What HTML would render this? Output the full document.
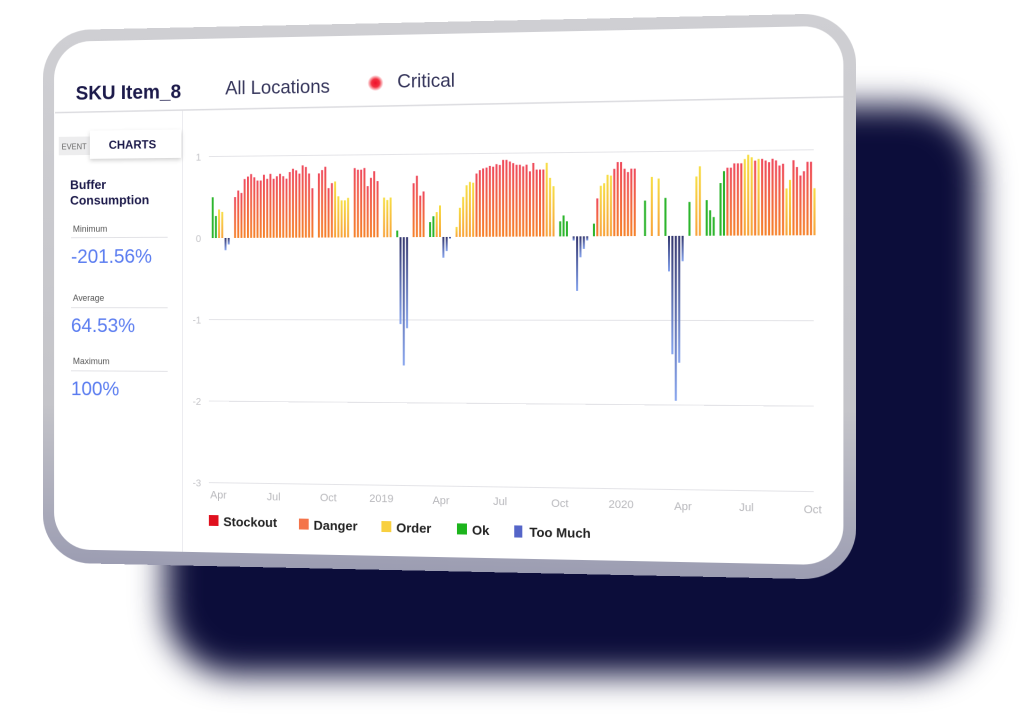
<!DOCTYPE html>
<html><head><meta charset="utf-8"><style>
html,body{margin:0;padding:0;background:#fff;width:1024px;height:719px;overflow:hidden;position:relative;font-family:"Liberation Sans",sans-serif}
#shadow{position:absolute;left:165px;top:105px;width:815px;height:570px;border-radius:70px;background:#0c0d3a;filter:blur(16px)}
#tab{position:absolute;left:29px;top:22px;width:815px;height:549px;transform:perspective(1000px) rotateY(-4.5deg);transform-origin:50% 50%}
#bezel{position:absolute;inset:0;border-radius:50px;background:linear-gradient(180deg,#cfcfd3 0%,#c4c4c9 70%,#9c9db2 100%)}
#screen{position:absolute;left:12px;top:12px;right:12px;bottom:14px;border-radius:38px;background:#fff;overflow:hidden}
svg{position:absolute;left:0;top:0}
</style></head><body>
<div id="shadow"></div>
<div id="tab"><div id="bezel"></div><div id="screen"></div>
<svg width="815" height="549" viewBox="0 0 815 549">
<defs>
<linearGradient id="gr" x1="0" y1="0" x2="0" y2="1"><stop offset="0" stop-color="#ef4a5c"/><stop offset="1" stop-color="#f6822a"/></linearGradient>
<linearGradient id="gy" x1="0" y1="0" x2="0" y2="1"><stop offset="0" stop-color="#f7de45"/><stop offset="1" stop-color="#f8a23a"/></linearGradient>
<linearGradient id="gb" x1="0" y1="0" x2="0" y2="1"><stop offset="0" stop-color="#33366e"/><stop offset="1" stop-color="#86a4ee"/></linearGradient>
<radialGradient id="rd"><stop offset="0" stop-color="#f0102a"/><stop offset="0.5" stop-color="#f23040"/><stop offset="1" stop-color="#f23040" stop-opacity="0"/></radialGradient>
<filter id="sh" x="-20%" y="-20%" width="140%" height="160%"><feDropShadow dx="0" dy="2" stdDeviation="2" flood-opacity="0.18"/></filter>
</defs>
<text x="35" y="72" font-size="20" font-weight="bold" fill="#1c1a4a">SKU Item_8</text>
<text x="192" y="69" font-size="19" fill="#34345a">All Locations</text>
<circle cx="346" cy="60" r="8" fill="url(#rd)"/>
<text x="368" y="65" font-size="19" fill="#34345a">Critical</text>
<line x1="13" y1="85" x2="803" y2="81" stroke="#dcdce0" stroke-width="1.5"/>
<rect x="147" y="85" width="1" height="450" fill="#ececef"/>
<rect x="17" y="110" width="33" height="19" fill="#ededee"/>
<text x="20" y="123" font-size="8" fill="#666">EVENT</text>
<rect x="50" y="104" width="96" height="29" fill="#fff" filter="url(#sh)"/>
<text x="70" y="123" font-size="12" font-weight="bold" fill="#1c1a4a">CHARTS</text>
<text x="29" y="164" font-size="13" font-weight="bold" fill="#1c1a4a">Buffer</text>
<text x="29" y="180" font-size="13" font-weight="bold" fill="#1c1a4a">Consumption</text>
<text x="32" y="208" font-size="9" fill="#555">Minimum</text>
<line x1="30" y1="214" x2="132" y2="214" stroke="#e2e2e6"/>
<text x="30" y="240" font-size="20" fill="#5a7cf0">-201.56%</text>
<text x="32" y="279" font-size="9" fill="#555">Average</text>
<line x1="30" y1="286" x2="132" y2="286" stroke="#e2e2e6"/>
<text x="30" y="311" font-size="20" fill="#5a7cf0">64.53%</text>
<text x="32" y="344" font-size="9" fill="#555">Maximum</text>
<line x1="30" y1="351" x2="132" y2="351" stroke="#e2e2e6"/>
<text x="30" y="376" font-size="20" fill="#5a7cf0">100%</text>
<g stroke="#e4e4e8" stroke-width="1">
<line x1="175" y1="132" x2="775" y2="132"/><line x1="175" y1="298" x2="775" y2="298"/>
<line x1="175" y1="381" x2="775" y2="381"/><line x1="175" y1="464" x2="775" y2="464"/>
</g>
<g font-size="10" fill="#c4c4c8" text-anchor="end">
<text x="167" y="136">1</text><text x="167" y="219">0</text><text x="167" y="302">-1</text><text x="167" y="385">-2</text><text x="167" y="468">-3</text>
</g>
<g id="bars"></g>
<g font-size="11" fill="#b8b8bc" text-anchor="middle">
<text x="185" y="480">Apr</text><text x="242" y="481">Jul</text><text x="298" y="481">Oct</text><text x="352" y="481">2019</text><text x="412" y="482">Apr</text><text x="471" y="482">Jul</text><text x="530" y="483">Oct</text><text x="590" y="483">2020</text><text x="650" y="484">Apr</text><text x="711" y="484">Jul</text><text x="774" y="485">Oct</text>
</g>
<g font-size="13" font-weight="bold" fill="#222">
<rect x="175" y="497" width="10" height="11" fill="#e0101e"/><text x="190" y="508">Stockout</text>
<rect x="268" y="499" width="10" height="11" fill="#f4744a"/><text x="283" y="510">Danger</text>
<rect x="352" y="500" width="10" height="11" fill="#f8d040"/><text x="367" y="511">Order</text>
<rect x="428" y="501" width="10" height="11" fill="#1cb41c"/><text x="443" y="512">Ok</text>
<rect x="485" y="502" width="8" height="12" fill="#5565c8"/><text x="500" y="513">Too Much</text>
</g>
</svg></div>
<script>
var s="g.5 g.27 y.35 y.32 b-.15 b-.08 _ r.5 r.58 r.55 r.72 r.75 r.78 r.74 r.7 r.7 r.77 r.72 r.78 r.72 r.75 r.78 r.75 r.72 r.8 r.84 r.82 r.78 r.88 r.86 r.78 r.6 _ r.78 r.82 r.86 r.6 r.66 y.68 y.5 y.45 y.45 y.48 _ r.84 r.82 r.82 r.84 r.62 r.72 r.8 r.68 _ y.48 y.45 y.48 _ g.08 b-1.05 b-1.55 b-1.1 _ r.65 r.74 r.5 r.55 _ g.18 g.25 y.3 y.38 b-.25 b-.17 b-.02 _ y.12 y.35 y.48 y.62 y.66 y.65 r.76 r.8 r.82 r.83 r.85 r.84 r.87 r.86 r.92 r.92 r.9 r.88 r.86 r.86 r.84 r.86 r.78 r.88 r.8 r.8 r.8 y.88 y.7 y.6 _ g.18 g.25 g.18 _ b-.05 b-.65 b-.25 b-.15 b-.05 _ g.15 r.45 y.6 y.63 y.73 y.72 r.8 r.88 r.88 r.8 r.76 r.8 r.8 _ _ g.42 _ y.7 _ y.68 _ g.45 b-.42 b-1.4 b-1.95 b-1.5 b-.3 _ g.4 _ y.7 y.82 _ g.42 g.3 g.22 _ g.62 g.76 r.8 r.8 r.85 r.85 r.85 y.9 y.95 y.92 r.88 y.9 r.9 r.88 r.86 r.9 r.88 r.82 r.84 y.55 y.65 r.88 r.8 r.7 r.75 r.86 r.86 y.55".split(" ");
var n=s.length,p=600/n,h="",u=83,y0=215;
var c={r:"url(#gr)",y:"url(#gy)",g:"#2db52d",b:"url(#gb)"};
for(var i=0;i<n;i++){var t=s[i];if(t=="_")continue;var k=t[0],v=parseFloat(t.slice(1));var x=(178+i*p).toFixed(1);
if(v>=0)h+='<rect x="'+x+'" y="'+(y0-v*u)+'" width="2" height="'+(v*u)+'" fill="'+c[k]+'"/>';
else h+='<rect x="'+x+'" y="'+y0+'" width="2" height="'+(-v*u)+'" fill="'+c[k]+'"/>';}
document.getElementById("bars").innerHTML=h;
</script>
</body></html>
